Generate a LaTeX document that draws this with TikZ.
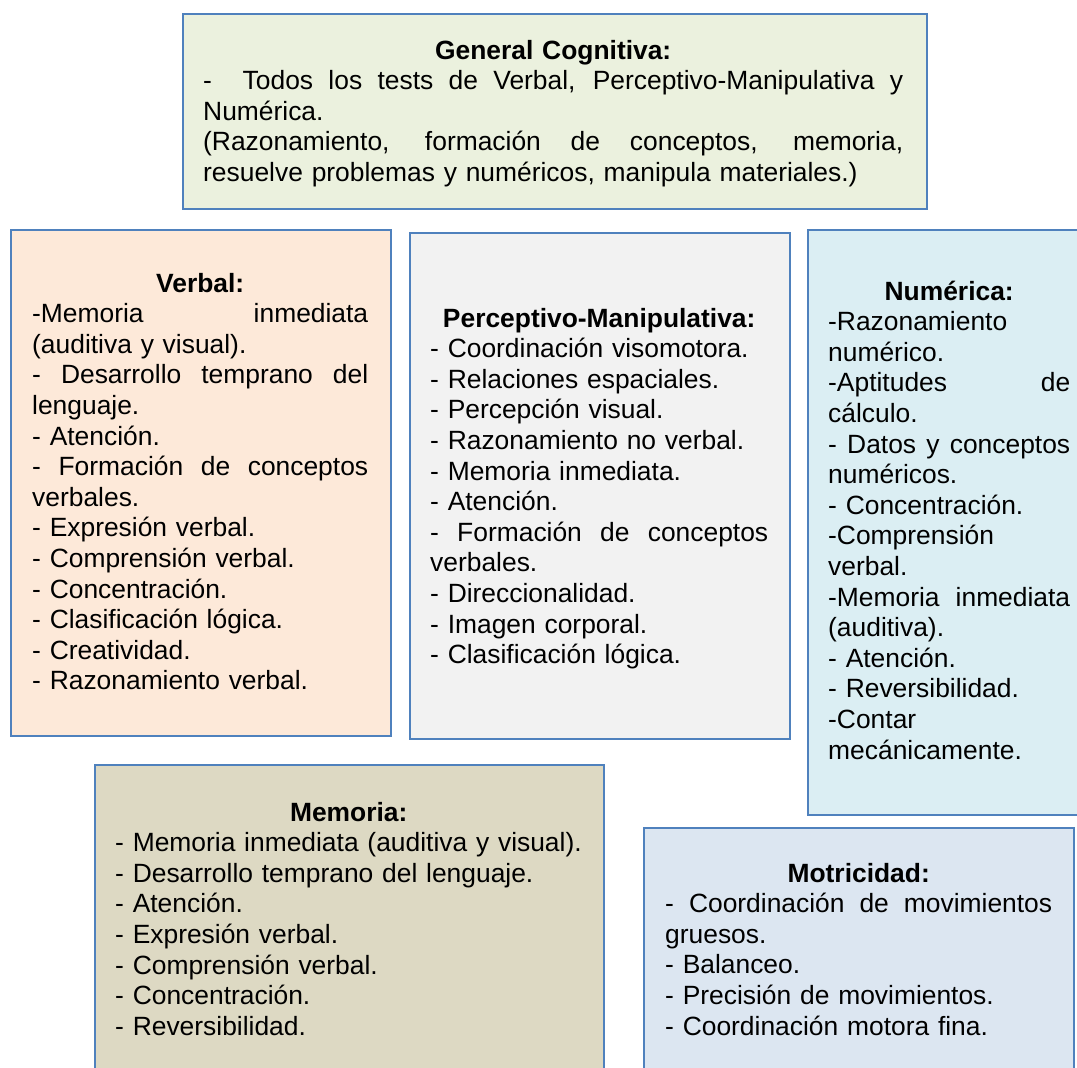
\documentclass[tikz,border=0pt]{standalone}
\usepackage{fontspec}
\setmainfont{Liberation Sans}

\definecolor{frameblue}{HTML}{4F81BD}
\definecolor{gcfill}{HTML}{EBF1DE}
\definecolor{verbalfill}{HTML}{FDE9D9}
\definecolor{percepfill}{HTML}{F2F2F2}
\definecolor{numfill}{HTML}{DBEEF3}
\definecolor{memfill}{HTML}{DDD9C3}
\definecolor{motfill}{HTML}{DCE6F1}

% a justified line (every space stretched equally to the full width),
% an extra space usable inside it, and a centred heading
\newcommand\jl[1]{\leavevmode\hbox to\linewidth{\spaceskip=\fontdimen2\font plus 1fil\relax #1}}
\newcommand\jgap{\hskip\spaceskip\relax}
\newcommand\hd[1]{\makebox[\linewidth]{\bfseries #1}}

\tikzset{
  panel/.style={draw=frameblue, line width=2.4pt, inner sep=0pt, anchor=north west},
  body/.style={anchor=base west, inner sep=0pt, align=left,
               font=\fontsize{26.4}{30.6}\selectfont},
}

\begin{document}
\begin{tikzpicture}[x=1pt,y=-1pt]
\useasboundingbox (0,0) rectangle (1077,1068);
\fill[white] (0,0) rectangle (1077,1068);
\clip (0,0) rectangle (1077,1068);

% panels
\node[panel, fill=gcfill,     minimum width=744pt, minimum height=195pt] (gcbox)  at (182,13)  {};
\node[panel, fill=verbalfill, minimum width=380pt, minimum height=506pt] (verbox) at (10,229)  {};
\node[panel, fill=percepfill, minimum width=380pt, minimum height=506pt] (perbox) at (409,232) {};
\node[panel, fill=numfill,    minimum width=285pt, minimum height=585pt] (numbox) at (807,229) {};
\node[panel, fill=memfill,    minimum width=509pt, minimum height=340pt] (membox) at (94,764)  {};
\node[panel, fill=motfill,    minimum width=430pt, minimum height=300pt] (motbox) at (643,827) {};

% texts
\node[body, text width=700pt] (gctext) at (203,59) {%
\hd{General Cognitiva:}\\
\jl{-\jgap{} Todos los tests de Verbal, Perceptivo-Manipulativa y}\\
Numérica.\\
\jl{(Razonamiento, formación de conceptos, memoria,}\\
resuelve problemas y numéricos, manipula materiales.)};

\node[body, text width=336pt] (vertext) at (32,292) {%
\hd{Verbal:}\\
\jl{-Memoria inmediata}\\
(auditiva y visual).\\
\jl{- Desarrollo temprano del}\\
lenguaje.\\
- Atención.\\
\jl{- Formación de conceptos}\\
verbales.\\
- Expresión verbal.\\
- Comprensión verbal.\\
- Concentración.\\
- Clasificación lógica.\\
- Creatividad.\\
- Razonamiento verbal.};

\node[body, text width=338pt] (pertext) at (430,327) {%
\hd{Perceptivo-Manipulativa:}\\
- Coordinación visomotora.\\
- Relaciones espaciales.\\
- Percepción visual.\\
- Razonamiento no verbal.\\
- Memoria inmediata.\\
- Atención.\\
\jl{- Formación de conceptos}\\
verbales.\\
- Direccionalidad.\\
- Imagen corporal.\\
- Clasificación lógica.};

\node[body, text width=242pt] (numtext) at (828,300) {%
\hd{Numérica:}\\
-Razonamiento\\
numérico.\\
\jl{-Aptitudes de}\\
cálculo.\\
\jl{- Datos y conceptos}\\
numéricos.\\
- Concentración.\\
-Comprensión\\
verbal.\\
\jl{-Memoria inmediata}\\
(auditiva).\\
- Atención.\\
- Reversibilidad.\\
-Contar\\
mecánicamente.};

\node[body, text width=467pt] (memtext) at (115,821) {%
\hd{Memoria:}\\
- Memoria inmediata (auditiva y visual).\\
- Desarrollo temprano del lenguaje.\\
- Atención.\\
- Expresión verbal.\\
- Comprensión verbal.\\
- Concentración.\\
- Reversibilidad.};

\node[body, text width=387pt] (mottext) at (665,882) {%
\hd{Motricidad:}\\
\jl{- Coordinación de movimientos}\\
gruesos.\\
- Balanceo.\\
- Precisión de movimientos.\\
- Coordinación motora fina.};
\end{tikzpicture}
\end{document}
